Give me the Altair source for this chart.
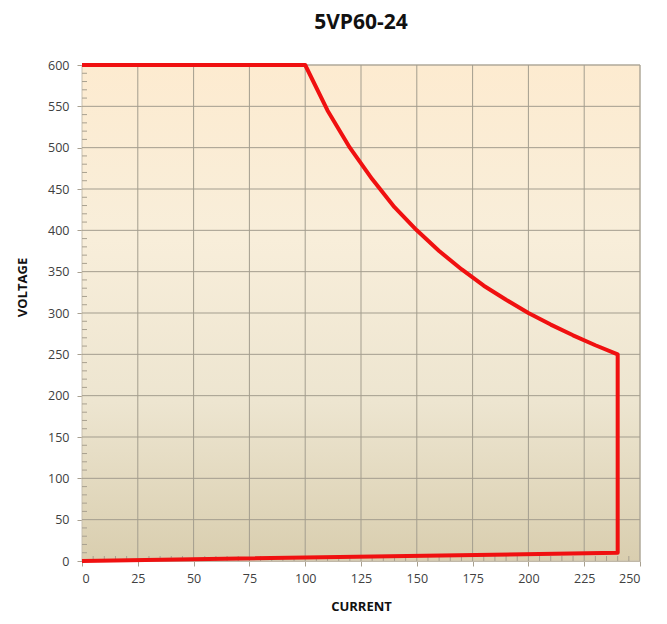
import altair as alt
import pandas as pd

# Operating envelope (current in A, voltage in V)
current = [0, 240, 240, 230, 220, 210, 200, 190, 180, 170, 160, 150, 140, 130, 120, 110, 100, 0]
voltage = [0, 10, 250, 261, 273, 286, 300, 316, 333, 353, 375, 400, 428, 462, 500, 545, 600, 600]
x_ticks = [0, 25, 50, 75, 100, 125, 150, 175, 200, 225, 250]
y_ticks = [0, 50, 100, 150, 200, 250, 300, 350, 400, 450, 500, 550, 600]
x_minor = [v for v in range(0, 251, 5) if v % 25 != 0]
y_minor = [v for v in range(0, 601, 10) if v % 50 != 0]

W, H = 558, 496
FONT = "Open Sans"

df = pd.DataFrame({"order": list(range(len(current))), "I": current, "V": voltage})
xs = alt.Scale(domain=[0, 250], nice=False, zero=False)
ys = alt.Scale(domain=[0, 600], nice=False, zero=False)

grad = alt.LinearGradient(
    gradient="linear", x1=0, y1=0, x2=0, y2=1,
    stops=[
        alt.GradientStop(color="#FDEBD0", offset=0),
        alt.GradientStop(color="#F8EEDA", offset=0.35),
        alt.GradientStop(color="#EDE5D0", offset=0.68),
        alt.GradientStop(color="#D9CEAF", offset=1),
    ],
)

bg = alt.Chart(pd.DataFrame({"a": [0]})).mark_rect(fill=grad, stroke="#c8c0b0", strokeWidth=1).encode(
    x=alt.value(0), x2=alt.value(W), y=alt.value(0), y2=alt.value(H)
)

GRID = "#a39d8e"
xgrid = alt.Chart(pd.DataFrame({"v": x_ticks[1:]})).mark_rule(color=GRID, strokeWidth=1).encode(
    x=alt.X("v:Q", scale=xs), y=alt.value(0), y2=alt.value(H)
)
ygrid = alt.Chart(pd.DataFrame({"v": y_ticks[1:]})).mark_rule(color=GRID, strokeWidth=1).encode(
    y=alt.Y("v:Q", scale=ys), x=alt.value(0), x2=alt.value(W)
)

ymin = alt.Chart(pd.DataFrame({"v": y_minor})).mark_rule(color="#a8a090", strokeWidth=1).encode(
    y=alt.Y("v:Q", scale=ys), x=alt.value(0), x2=alt.value(5)
)
xmin = alt.Chart(pd.DataFrame({"v": x_minor})).mark_rule(color="#a8a090", strokeWidth=1).encode(
    x=alt.X("v:Q", scale=xs), y=alt.value(H - 5), y2=alt.value(H)
)

line = alt.Chart(df).mark_line(color="#F01010", strokeWidth=4, strokeJoin="round").encode(
    x=alt.X("I:Q", scale=xs,
            axis=alt.Axis(values=x_ticks, title="CURRENT", grid=False, tickSize=5,
                          labelPadding=6, titlePadding=16)),
    y=alt.Y("V:Q", scale=ys,
            axis=alt.Axis(values=y_ticks, title="VOLTAGE", grid=False, tickSize=5,
                          labelPadding=8, titleX=-60, titleY=222, titleAngle=-90,
                          titleBaseline="middle", titleAlign="center")),
    order="order:Q",
)

chart = alt.layer(bg, xgrid, ygrid, ymin, xmin, line).properties(
    width=W, height=H,
    title=alt.TitleParams("5VP60-24", fontSize=21, fontWeight="bold", font=FONT,
                          color="#111111", offset=26, anchor="middle"),
    autosize=alt.AutoSizeParams(type="none"),
    padding={"left": 74, "top": 57, "right": 19, "bottom": 55},
).configure_view(stroke=None).configure_axis(
    labelFont=FONT, labelFontSize=12.5, labelColor="#404040",
    titleFont=FONT, titleFontSize=13, titleFontWeight="bold", titleColor="#111111",
    domainColor="#b8b0a0", tickColor="#a8a090",
)

chart.save("out.html", embed_options={"renderer": "svg", "actions": False})
